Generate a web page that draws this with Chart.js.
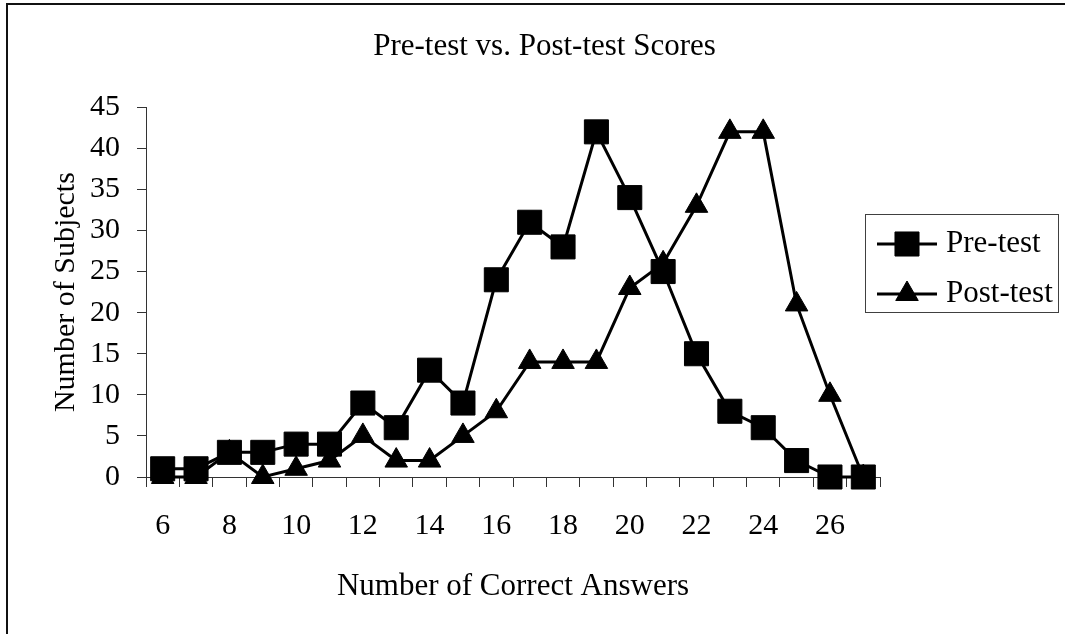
<!DOCTYPE html>
<html>
<head>
<meta charset="utf-8">
<script src="https://cdn.jsdelivr.net/npm/chart.js@4.4.0/dist/chart.umd.min.js"></script>
<style>
  body { margin: 0; background: #fff; }
  canvas { display: block; }
</style>
</head>
<body>
<canvas id="myChart" width="1065" height="634"></canvas>
<script>
// Data

const scores = ['6', '7', '8', '9', '10', '11', '12', '13', '14', '15', '16',
  '17', '18', '19', '20', '21', '22', '23', '24', '25', '26', '27'];
const preTest = [1, 1, 3, 3, 4, 4, 9, 6, 13, 9, 24, 31, 28, 42, 34, 25, 15, 8, 6, 2, 0, 0];
const postTest = [0, 0, 3, 0, 1, 2, 5, 2, 2, 5, 8, 14, 14, 14, 23, 26, 33, 42, 42, 21, 10, 0];
const xTickLabels = ['6', '8', '10', '12', '14', '16', '18', '20', '22', '24', '26'];
const yMin = 0;
const yMax = 45;
const yStep = 5;

const serif = "'Liberation Serif', 'Times New Roman', serif";
Chart.defaults.font.family = serif;
Chart.defaults.color = '#000';

// Frame round the picture (top and left edges only)
const framePlugin = {
  id: 'frame',
  afterDraw(chart) {
    const ctx = chart.ctx;
    ctx.save();
    ctx.fillStyle = '#111';
    ctx.fillRect(6, 3, chart.width - 6, 2);
    ctx.fillRect(6, 3, 2, chart.height - 3);
    ctx.restore();
  }
};

// Boxed legend with line + marker
const legendPlugin = {
  id: 'boxLegend',
  afterDraw(chart) {
    const ctx = chart.ctx;
    ctx.save();
    ctx.fillStyle = '#fff';
    ctx.fillRect(865, 214, 194, 99);
    ctx.strokeStyle = '#404040';
    ctx.lineWidth = 1;
    ctx.strokeRect(865.5, 214.5, 193, 98);
    chart.data.datasets.forEach((ds, i) => {
      const y = 244 + i * 50;
      ctx.strokeStyle = ds.borderColor;
      ctx.lineWidth = ds.borderWidth;
      ctx.beginPath();
      ctx.moveTo(877, y);
      ctx.lineTo(937, y);
      ctx.stroke();
      ctx.fillStyle = ds.pointBackgroundColor;
      ctx.strokeStyle = ds.pointBorderColor;
      ctx.lineWidth = ds.pointBorderWidth;
      Chart.helpers.drawPoint(ctx, {
        pointStyle: ds.pointStyle,
        radius: ds.pointRadius,
        rotation: 0,
        borderWidth: ds.pointBorderWidth
      }, 907, y);
      ctx.fillStyle = '#000';
      ctx.font = '31px ' + serif;
      ctx.textAlign = 'left';
      ctx.textBaseline = 'middle';
      ctx.fillText(ds.label, 946, y);
    });
    ctx.restore();
  }
};

const ctx = document.getElementById('myChart').getContext('2d');
const myChart = new Chart(ctx, {
  type: 'line',
  data: {
    labels: scores,
    datasets: [{
      label: 'Pre-test',
      data: preTest,
      borderColor: '#000',
      borderWidth: 3,
      pointStyle: 'rect',
      pointRadius: 17,
      pointBackgroundColor: '#000',
      pointBorderColor: '#000',
      pointBorderWidth: 1,
      tension: 0,
      clip: false
    }, {
      label: 'Post-test',
      data: postTest,
      borderColor: '#000',
      borderWidth: 3,
      pointStyle: 'triangle',
      pointRadius: 13,
      pointBackgroundColor: '#000',
      pointBorderColor: '#000',
      pointBorderWidth: 1,
      tension: 0,
      clip: false
    }]
  },
  options: {
    responsive: false,
    animation: false,
    layout: { padding: { top: 0, left: 24, right: 0, bottom: 0 } },
    plugins: {
      legend: { display: false },
      tooltip: { enabled: false },
      title: {
        display: true,
        text: 'Pre-test vs. Post-test Scores',
        color: '#000',
        font: { size: 31, weight: 'normal' },
        padding: { top: 28, bottom: 42 }
      }
    },
    scales: {
      x: {
        type: 'category',
        offset: true,
        grid: { offset: true, drawOnChartArea: false, tickLength: 10, color: '#333' },
        border: { color: '#333', width: 1 },
        ticks: {
          autoSkip: false,
          maxRotation: 0,
          padding: 21,
          color: '#000',
          font: { size: 30 },
          callback: function (value) {
            const lab = this.getLabelForValue(value);
            return xTickLabels.includes(lab) ? lab : '';
          }
        },
        title: {
          display: true,
          text: 'Number of Correct Answers',
          color: '#000',
          font: { size: 31 },
          padding: { top: 0, bottom: 29 }
        },
        afterFit: (s) => { s.height = 157; }
      },
      y: {
        min: yMin,
        max: yMax,
        ticks: { stepSize: yStep, padding: 17, color: '#000', font: { size: 30 } },
        grid: { drawOnChartArea: false, tickLength: 9, color: '#333' },
        border: { color: '#333', width: 1 },
        title: {
          display: true,
          text: 'Number of Subjects',
          color: '#000',
          font: { size: 30 },
          padding: { top: 24, bottom: 0 }
        },
        afterFit: (s) => { s.width = 122; }
      },
      y2: {
        position: 'right',
        display: true,
        grid: { display: false },
        border: { display: false },
        ticks: { display: false },
        afterFit: (s) => { s.width = 185; }
      }
    }
  },
  plugins: [legendPlugin, framePlugin]
});
</script>
</body>
</html>
